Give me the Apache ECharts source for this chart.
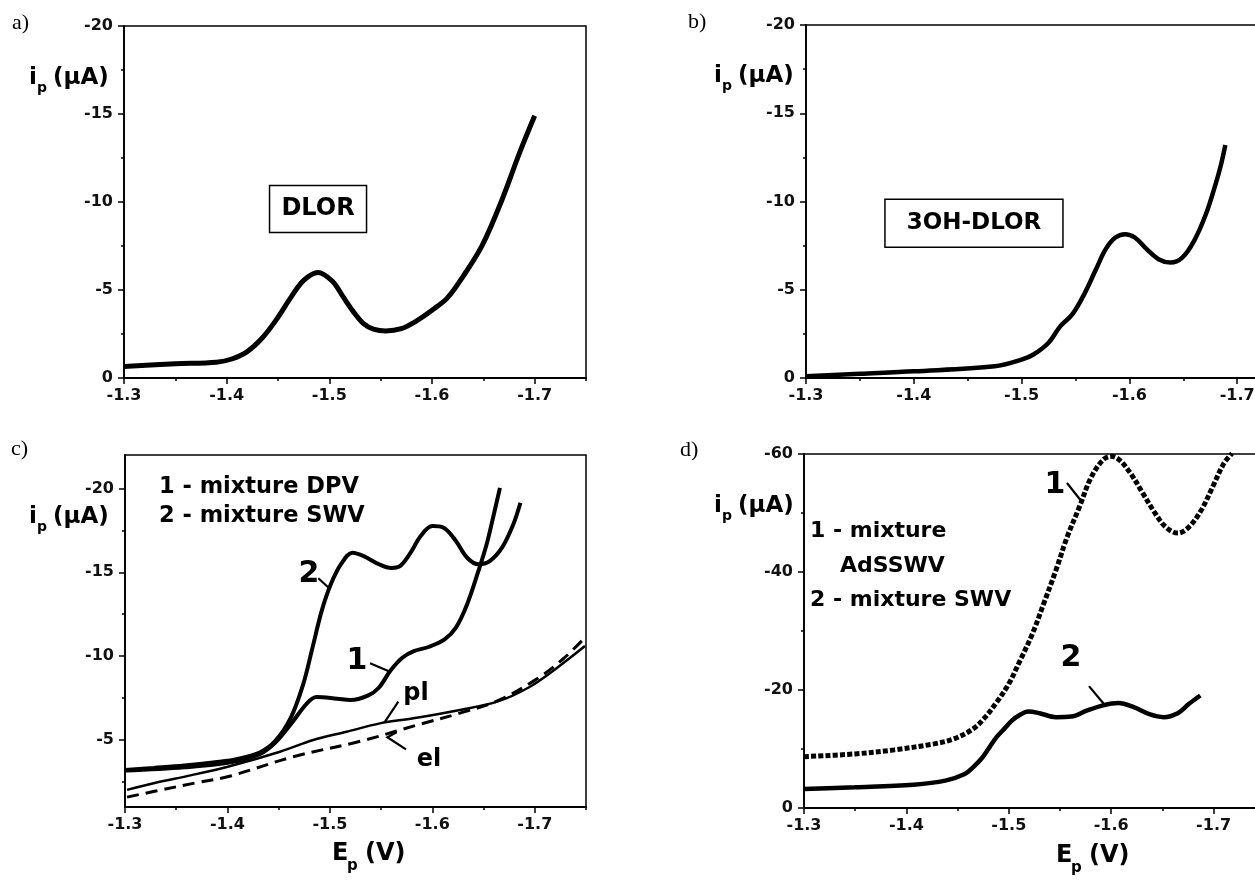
<!DOCTYPE html>
<html>
<head>
<meta charset="utf-8">
<script src="https://cdn.jsdelivr.net/npm/echarts@6/dist/echarts.min.js"></script>
<style>
html,body{margin:0;padding:0;background:#fff;}
#c{width:1255px;height:883px;}
</style>
</head>
<body>
<div id="c"></div>
<script>
// ---------- data (E in V, i in µA) ----------
const aE = [-1.3, -1.35, -1.39, -1.405, -1.42, -1.435, -1.45, -1.463, -1.475, -1.489, -1.503, -1.513, -1.523, -1.533, -1.543, -1.555, -1.57, -1.585, -1.6, -1.615, -1.63, -1.649, -1.668, -1.686, -1.7];
const aI = [-0.66, -0.81, -0.9, -1.08, -1.5, -2.3, -3.45, -4.62, -5.55, -6.0, -5.5, -4.65, -3.8, -3.11, -2.78, -2.67, -2.8, -3.25, -3.85, -4.55, -5.75, -7.55, -10.1, -12.9, -14.9];

const bE = [-1.3, -1.35, -1.4, -1.475, -1.5, -1.511, -1.525, -1.536, -1.547, -1.558, -1.569, -1.578, -1.587, -1.596, -1.605, -1.616, -1.627, -1.638, -1.649, -1.66, -1.671, -1.68, -1.685, -1.689];
const bI = [-0.1, -0.24, -0.38, -0.66, -1.04, -1.33, -2.0, -2.94, -3.6, -4.74, -6.16, -7.3, -7.96, -8.15, -7.96, -7.3, -6.73, -6.54, -6.82, -7.77, -9.29, -11.0, -12.1, -13.2];

const c1E = [-1.3, -1.358, -1.403, -1.432, -1.447, -1.462, -1.477, -1.487, -1.507, -1.52, -1.537, -1.548, -1.559, -1.571, -1.582, -1.597, -1.612, -1.623, -1.634, -1.645, -1.653, -1.66, -1.666];
const c1I = [-3.17, -3.37, -3.67, -4.17, -4.86, -5.95, -7.14, -7.56, -7.46, -7.38, -7.64, -8.13, -9.13, -9.92, -10.3, -10.56, -11.0, -11.7, -13.1, -15.08, -16.67, -18.45, -20.04];

const c2E = [-1.3, -1.328, -1.358, -1.388, -1.41, -1.432, -1.447, -1.462, -1.474, -1.483, -1.492, -1.501, -1.511, -1.522, -1.533, -1.548, -1.56, -1.568, -1.578, -1.589, -1.6, -1.611, -1.623, -1.634, -1.645, -1.656, -1.668, -1.679, -1.686];
const c2I = [-3.21, -3.33, -3.47, -3.67, -3.87, -4.27, -4.96, -6.35, -8.33, -10.5, -12.7, -14.3, -15.5, -16.17, -15.97, -15.48, -15.26, -15.35, -16.1, -17.2, -17.76, -17.66, -16.87, -15.87, -15.48, -15.67, -16.47, -17.86, -19.15];

const plE = [-1.302, -1.328, -1.365, -1.403, -1.4513, -1.4838, -1.5164, -1.5489, -1.5815, -1.627, -1.664, -1.694, -1.72, -1.749];
const plI = [-2.02, -2.42, -2.9, -3.45, -4.3, -5.0, -5.49, -5.99, -6.29, -6.79, -7.3, -8.13, -9.22, -10.6];

const elE = [-1.302, -1.33, -1.37, -1.403, -1.4643, -1.531, -1.588, -1.627, -1.664, -1.701, -1.727, -1.749];
const elI = [-1.59, -1.95, -2.45, -2.85, -4.0, -4.94, -5.94, -6.6, -7.34, -8.6, -9.8, -11.1];

const d1E = [-1.3, -1.35, -1.388, -1.427, -1.446, -1.465, -1.477, -1.488, -1.5, -1.511, -1.523, -1.534, -1.546, -1.557, -1.569, -1.58, -1.592, -1.6, -1.608, -1.619, -1.63, -1.642, -1.653, -1.665, -1.676, -1.688, -1.699, -1.71, -1.718];
const d1I = [-8.7, -9.17, -9.85, -10.87, -11.7, -13.4, -15.4, -17.9, -21.05, -25.0, -29.5, -34.6, -40.3, -45.95, -51.05, -55.9, -59.0, -59.6, -59.0, -56.7, -53.6, -50.2, -47.65, -46.6, -47.65, -50.5, -54.4, -58.4, -60.1];

const d2E = [-1.3, -1.35, -1.407, -1.438, -1.457, -1.465, -1.473, -1.48, -1.488, -1.496, -1.503, -1.511, -1.519, -1.53, -1.546, -1.561, -1.576, -1.592, -1.607, -1.622, -1.638, -1.651, -1.665, -1.676, -1.687];
const d2I = [-3.2, -3.5, -3.96, -4.64, -5.77, -6.9, -8.3, -10.0, -12.0, -13.5, -14.8, -15.8, -16.35, -16.07, -15.4, -15.5, -16.5, -17.4, -17.8, -17.1, -15.85, -15.4, -16.07, -17.66, -19.07];

// ---------- tick labels ----------
const xMajor = [-1.3, -1.4, -1.5, -1.6, -1.7];
const xMinorFull = [-1.35, -1.45, -1.55, -1.65, -1.75];
const xMinorClip = [-1.35, -1.45, -1.55, -1.65];
const yMajorAB = [-20, -15, -10, -5, 0];
const yMinorAB = [-17.5, -12.5, -7.5, -2.5];
const yMajorC = [-20, -15, -10, -5];
const yMinorC = [-17.5, -12.5, -7.5, -2.5];
const yMajorD = [-60, -40, -20, 0];
const yMinorD = [-50, -30, -10];

// ---------- annotation text ----------
const boxA = {text: 'DLOR', at: [-1.489, -9.6]};
const boxB = {text: '3OH-DLOR', at: [-1.4558, -8.77]};
const legendC = ['1 - mixture DPV', '2 - mixture SWV'];
const legendD = ['1 - mixture', 'AdSSWV', '2 - mixture SWV'];
const curveLabelsC = [
  {text: '2', at: [-1.4796, -14.9], ptr: [[-1.4887, -14.65], [-1.4994, -14.05]], size: 30},
  {text: '1', at: [-1.5265, -9.67], ptr: [[-1.5392, -9.57], [-1.5587, -9.07]], size: 30},
  {text: 'pl', at: [-1.5841, -7.74], ptr: [[-1.5668, -7.28], [-1.5538, -6.09]], size: 24},
  {text: 'el', at: [-1.5968, -3.80], ptr: [[-1.5652, -5.457], [-1.5561, -5.16], [-1.5743, -4.44]], size: 24}
];
const curveLabelsD = [
  {text: '1', at: [-1.5451, -54.74], ptr: [[-1.5568, -55.08], [-1.5715, -51.86]], size: 30},
  {text: '2', at: [-1.5607, -25.39], ptr: [[-1.5783, -20.65], [-1.5939, -17.42]], size: 30}
];

const zip = (xs, ys) => xs.map((x, i) => [x, ys[i]]);
const BLACK = '#000';
const TICKFONT = {fontFamily: 'DejaVu Sans', fontWeight: 'bold', fontSize: 16, color: '#111'};

function grid(left, top, width, height) {
  return {left, top, width, height, show: true, borderColor: BLACK, borderWidth: 1.5,
          backgroundColor: 'transparent', containLabel: false, outerBoundsMode: 'none'};
}
function xPair(g, min, minors) {
  return [
    {type: 'value', gridIndex: g, min: min, max: -1.3, inverse: true, position: 'bottom',
     axisLine: {onZero: false, lineStyle: {color: BLACK, width: 1.8}},
     axisTick: {show: true, inside: false, length: 6, customValues: xMajor, lineStyle: {color: BLACK, width: 1.5}},
     axisLabel: Object.assign({customValues: xMajor, margin: 10, formatter: v => v.toFixed(1)}, TICKFONT),
     splitLine: {show: false}},
    {type: 'value', gridIndex: g, min: min, max: -1.3, inverse: true, position: 'bottom',
     axisLine: {show: false, onZero: false},
     axisTick: {show: true, inside: false, length: 3, customValues: minors, lineStyle: {color: BLACK, width: 1.5}},
     axisLabel: {show: false}, splitLine: {show: false}}
  ];
}
function yPair(g, min, max, majors, minors) {
  return [
    {type: 'value', gridIndex: g, min, max, inverse: true, position: 'left',
     axisLine: {onZero: false, lineStyle: {color: BLACK, width: 1.8}},
     axisTick: {show: true, inside: false, length: 6, customValues: majors, lineStyle: {color: BLACK, width: 1.5}},
     axisLabel: Object.assign({customValues: majors, margin: 11, formatter: v => String(v)}, TICKFONT),
     splitLine: {show: false}},
    {type: 'value', gridIndex: g, min, max, inverse: true, position: 'left',
     axisLine: {show: false, onZero: false},
     axisTick: {show: true, inside: false, length: 3, customValues: minors, lineStyle: {color: BLACK, width: 1.5}},
     axisLabel: {show: false}, splitLine: {show: false}}
  ];
}
function line(g, xs, ys, width, type) {
  return {type: 'line', xAxisIndex: 2 * g, yAxisIndex: 2 * g, data: zip(xs, ys),
          showSymbol: false, symbol: 'none', smooth: 0.35, clip: true,
          lineStyle: {color: BLACK, width: width, type: type || 'solid', cap: 'butt'}, z: 3};
}

const option = {
  animation: false,
  backgroundColor: '#fff',
  grid: [grid(124, 26, 462, 352), grid(806, 25, 460, 353), grid(125, 455, 461, 352), grid(804, 454, 460, 354)],
  xAxis: [].concat(xPair(0, -1.75, xMinorFull), xPair(1, -1.7267, xMinorClip),
                   xPair(2, -1.75, xMinorFull), xPair(3, -1.7492, xMinorClip)),
  yAxis: [].concat(yPair(0, -20, 0, yMajorAB, yMinorAB), yPair(1, -20, 0, yMajorAB, yMinorAB),
                   yPair(2, -22, -1, yMajorC, yMinorC), yPair(3, -60, 0, yMajorD, yMinorD)),
  series: [
    line(0, aE, aI, 5),
    line(1, bE, bI, 4.5),
    line(2, plE, plI, 2.5),
    line(2, elE, elI, 3, [12, 7]),
    line(2, c1E, c1I, 4),
    line(2, c2E, c2I, 4),
    line(3, d1E, d1I, 5, [5, 2.2]),
    line(3, d2E, d2I, 4.5)
  ]
};

const chart = echarts.init(document.getElementById('c'));
chart.setOption(option);

function P(g, pt) { return chart.convertToPixel({xAxisIndex: 2 * g, yAxisIndex: 2 * g}, pt); }
function txt(x, y, text, font, align) {
  return {type: 'text', x: x, y: y, z: 10,
          style: {text: text, font: font, fill: BLACK, textAlign: align || 'left', align: align || 'left',
                  textVerticalAlign: 'middle', verticalAlign: 'middle'}};
}
const BF = s => 'bold ' + s + 'px "DejaVu Sans"';
const SERIF = '22px "Liberation Serif"';

const gr = [];
// panel letters
gr.push(txt(12, 23, 'a)', SERIF), txt(688, 22, 'b)', SERIF), txt(11, 449, 'c)', SERIF), txt(680, 450, 'd)', SERIF));
// y titles  i_p (µA)
[[29, 78], [714, 76], [29, 517], [714, 506]].forEach(([x, y]) => {
  gr.push(txt(x, y, 'i', BF(23)), txt(x + 8, y + 10, 'p', BF(14)), txt(x + 24, y, '(\u00b5A)', BF(23)));
});
// x titles  E_p (V)
[[332, 854], [1056, 856]].forEach(([x, y]) => {
  gr.push(txt(x, y, 'E', BF(24)), txt(x + 15, y + 12, 'p', BF(15)), txt(x + 33, y, '(V)', BF(24)));
});
// boxes
function box(g, b, w, h, size) {
  const p = P(g, b.at);
  gr.push({type: 'rect', z: 9, shape: {x: p[0] - w / 2, y: p[1] - h / 2, width: w, height: h},
           style: {fill: '#fff', stroke: BLACK, lineWidth: 1.5}});
  gr.push(txt(p[0], p[1], b.text, BF(size), 'center'));
}
box(0, boxA, 97, 47, 24);
box(1, boxB, 178, 48, 23);
// legends
gr.push(txt(159, 487, legendC[0], BF(22.5)), txt(159, 516, legendC[1], BF(22.5)));
gr.push(txt(810, 531, legendD[0], BF(22)), txt(840, 566, legendD[1], BF(22)), txt(810, 600, legendD[2], BF(22)));
// curve labels with pointers
function curveLabels(g, arr) {
  arr.forEach(l => {
    const p = P(g, l.at);
    gr.push(txt(p[0], p[1], l.text, BF(l.size), 'center'));
    gr.push({type: 'polyline', z: 10, shape: {points: l.ptr.map(q => P(g, q))},
             style: {stroke: BLACK, lineWidth: 2.2, fill: null}});
  });
}
curveLabels(2, curveLabelsC);
curveLabels(3, curveLabelsD);

chart.setOption({graphic: {elements: gr}});
</script>
</body>
</html>
